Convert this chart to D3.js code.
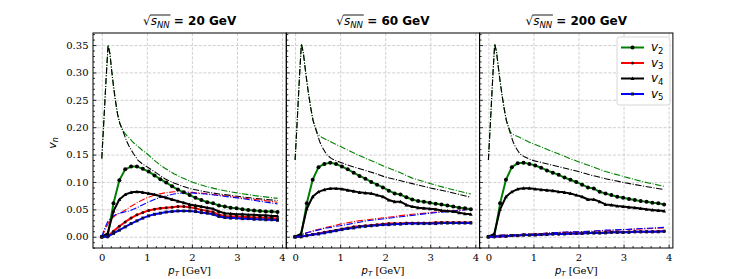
<!DOCTYPE html>
<html><head><meta charset="utf-8">
<script src="https://cdn.jsdelivr.net/npm/d3@7"></script>
<style>body{margin:0;background:#fff}</style>
</head><body><svg id="c" width="747" height="279"></svg>
<script>
// ---------------- data ----------------
const energies = ["20", "60", "200"];
const seriesNames = ["v2", "v3", "v4", "v5"];
const xTicks = [0, 1, 2, 3, 4];
const yTicks = [0, 0.05, 0.10, 0.15, 0.20, 0.25, 0.30, 0.35];

const pT = [0, 0.13, 0.26, 0.39, 0.52, 0.65, 0.78, 0.91, 1.04, 1.17, 1.30, 1.43, 1.56, 1.69, 1.82, 1.95,
  2.08, 2.21, 2.34, 2.47, 2.60, 2.73, 2.86, 2.99, 3.12, 3.25, 3.38, 3.51, 3.64, 3.77, 3.90];

// 20 GeV
const v2_20 = [0, 0.001, 0.061, 0.103, 0.123, 0.128, 0.128, 0.124, 0.119, 0.112, 0.105, 0.099, 0.092, 0.086, 0.081, 0.076, 0.071, 0.067, 0.063, 0.061, 0.057, 0.055, 0.053, 0.052, 0.050, 0.049, 0.048, 0.047, 0.046, 0.046, 0.045];
const v3_20 = [0, 0.001, 0.010, 0.019, 0.027, 0.034, 0.040, 0.044, 0.048, 0.050, 0.052, 0.053, 0.054, 0.055, 0.055, 0.054, 0.052, 0.049, 0.047, 0.045, 0.040, 0.038, 0.037, 0.037, 0.036, 0.036, 0.035, 0.035, 0.034, 0.034, 0.033];
const v4_20 = [0, 0.006, 0.047, 0.068, 0.077, 0.081, 0.082, 0.081, 0.079, 0.077, 0.074, 0.071, 0.068, 0.065, 0.062, 0.059, 0.057, 0.055, 0.053, 0.051, 0.046, 0.043, 0.042, 0.041, 0.041, 0.040, 0.040, 0.039, 0.039, 0.038, 0.038];
const v5_20 = [0, 0.000, 0.006, 0.012, 0.018, 0.024, 0.029, 0.034, 0.038, 0.041, 0.043, 0.045, 0.046, 0.047, 0.047, 0.047, 0.046, 0.044, 0.043, 0.041, 0.037, 0.035, 0.034, 0.034, 0.033, 0.033, 0.032, 0.032, 0.031, 0.031, 0.030];
// 60 GeV
const v2_60 = [0, 0.001, 0.061, 0.104, 0.127, 0.133, 0.135, 0.133, 0.128, 0.123, 0.117, 0.111, 0.106, 0.100, 0.095, 0.090, 0.084, 0.079, 0.077, 0.072, 0.068, 0.065, 0.064, 0.062, 0.060, 0.059, 0.057, 0.055, 0.053, 0.052, 0.050];
const v3_60 = [0, 0.000, 0.002, 0.004, 0.006, 0.008, 0.010, 0.012, 0.014, 0.016, 0.018, 0.019, 0.020, 0.021, 0.022, 0.023, 0.024, 0.024, 0.024, 0.025, 0.025, 0.025, 0.025, 0.025, 0.026, 0.026, 0.026, 0.026, 0.026, 0.026, 0.026];
const v4_60 = [0, 0.005, 0.051, 0.073, 0.082, 0.086, 0.088, 0.088, 0.087, 0.085, 0.083, 0.081, 0.080, 0.079, 0.076, 0.073, 0.067, 0.064, 0.064, 0.058, 0.055, 0.053, 0.052, 0.051, 0.050, 0.048, 0.047, 0.046, 0.044, 0.042, 0.041];
const v5_60 = [0, 0.000, 0.002, 0.004, 0.005, 0.007, 0.009, 0.011, 0.013, 0.015, 0.016, 0.018, 0.019, 0.020, 0.021, 0.022, 0.022, 0.023, 0.023, 0.024, 0.024, 0.024, 0.024, 0.024, 0.024, 0.025, 0.025, 0.025, 0.025, 0.025, 0.025];
// 200 GeV
const v2_200 = [0, 0.001, 0.061, 0.104, 0.127, 0.134, 0.135, 0.133, 0.130, 0.126, 0.121, 0.117, 0.113, 0.108, 0.104, 0.100, 0.095, 0.090, 0.088, 0.082, 0.079, 0.076, 0.073, 0.071, 0.069, 0.067, 0.065, 0.064, 0.062, 0.061, 0.059];
const v3_200 = [0, 0.000, 0.001, 0.001, 0.002, 0.002, 0.003, 0.003, 0.004, 0.004, 0.005, 0.005, 0.005, 0.006, 0.006, 0.006, 0.007, 0.007, 0.007, 0.007, 0.008, 0.008, 0.008, 0.008, 0.009, 0.009, 0.009, 0.009, 0.009, 0.010, 0.010];
const v4_200 = [0, 0.005, 0.050, 0.073, 0.082, 0.087, 0.0885, 0.0885, 0.087, 0.086, 0.085, 0.084, 0.082, 0.081, 0.079, 0.076, 0.073, 0.068, 0.068, 0.064, 0.059, 0.058, 0.056, 0.055, 0.054, 0.053, 0.0515, 0.050, 0.049, 0.048, 0.047];
const v5_200 = [0, 0.000, 0.001, 0.001, 0.002, 0.002, 0.003, 0.003, 0.003, 0.004, 0.004, 0.005, 0.005, 0.005, 0.006, 0.006, 0.006, 0.007, 0.007, 0.007, 0.007, 0.008, 0.008, 0.008, 0.008, 0.009, 0.009, 0.009, 0.009, 0.009, 0.010];

// dash-dot reference curves
const refPt = [0, 0.05, 0.10, 0.14, 0.18, 0.22, 0.26, 0.30, 0.35, 0.40, 0.45, 0.50, 0.55, 0.60, 0.70, 0.80, 0.90, 1.0, 1.2, 1.4, 1.6, 1.8, 2.0, 2.3, 2.6, 3.0, 3.4, 3.9];
const ref2_20 = [0.143, 0.218, 0.295, 0.350, 0.335, 0.303, 0.275, 0.250, 0.224, 0.207, 0.197, 0.190, 0.185, 0.181, 0.172, 0.165, 0.158, 0.152, 0.137, 0.125, 0.115, 0.107, 0.100, 0.092, 0.086, 0.080, 0.075, 0.070];
const ref4_20 = [0.143, 0.218, 0.295, 0.350, 0.335, 0.303, 0.275, 0.250, 0.224, 0.207, 0.197, 0.186, 0.175, 0.166, 0.152, 0.140, 0.133, 0.128, 0.117, 0.106, 0.098, 0.092, 0.087, 0.082, 0.078, 0.074, 0.070, 0.066];
const ref3_20 = [0, 0.008, 0.017, 0.024, 0.029, 0.033, 0.036, 0.039, 0.041, 0.043, 0.045, 0.048, 0.050, 0.053, 0.058, 0.063, 0.067, 0.071, 0.077, 0.080, 0.082, 0.082, 0.081, 0.079, 0.076, 0.072, 0.068, 0.063];
const ref5_20 = [0, 0.012, 0.022, 0.029, 0.033, 0.036, 0.038, 0.040, 0.042, 0.043, 0.044, 0.045, 0.046, 0.047, 0.050, 0.054, 0.058, 0.062, 0.069, 0.074, 0.078, 0.080, 0.080, 0.078, 0.075, 0.071, 0.066, 0.060];
const ref2_60 = [0.140, 0.216, 0.296, 0.352, 0.338, 0.310, 0.284, 0.260, 0.234, 0.212, 0.199, 0.188, 0.184, 0.181, 0.177, 0.173, 0.169, 0.165, 0.157, 0.149, 0.142, 0.135, 0.128, 0.118, 0.107, 0.097, 0.088, 0.078];
const ref4_60 = [0.140, 0.216, 0.296, 0.352, 0.338, 0.310, 0.284, 0.260, 0.234, 0.212, 0.199, 0.185, 0.173, 0.164, 0.150, 0.143, 0.139, 0.136, 0.130, 0.125, 0.120, 0.115, 0.109, 0.103, 0.097, 0.089, 0.082, 0.072];
const ref3_60 = [0, 0.002, 0.003, 0.004, 0.005, 0.006, 0.007, 0.008, 0.009, 0.011, 0.012, 0.013, 0.014, 0.015, 0.017, 0.019, 0.021, 0.023, 0.026, 0.029, 0.031, 0.033, 0.035, 0.038, 0.041, 0.044, 0.047, 0.050];
const ref5_60 = [0, 0.002, 0.003, 0.004, 0.005, 0.006, 0.007, 0.008, 0.009, 0.010, 0.011, 0.012, 0.013, 0.014, 0.016, 0.017, 0.019, 0.020, 0.023, 0.026, 0.029, 0.031, 0.033, 0.036, 0.039, 0.043, 0.046, 0.050];
const ref2_200 = [0.140, 0.216, 0.296, 0.352, 0.338, 0.310, 0.284, 0.260, 0.234, 0.212, 0.199, 0.190, 0.187, 0.185, 0.181, 0.177, 0.173, 0.170, 0.163, 0.156, 0.150, 0.143, 0.137, 0.128, 0.119, 0.110, 0.101, 0.092];
const ref4_200 = [0.140, 0.216, 0.296, 0.352, 0.338, 0.310, 0.284, 0.260, 0.234, 0.212, 0.199, 0.185, 0.173, 0.164, 0.151, 0.146, 0.142, 0.139, 0.135, 0.131, 0.127, 0.123, 0.119, 0.112, 0.106, 0.099, 0.093, 0.086];
const ref3_200 = [0, 0.001, 0.001, 0.002, 0.002, 0.002, 0.002, 0.003, 0.003, 0.003, 0.003, 0.004, 0.004, 0.004, 0.004, 0.005, 0.005, 0.005, 0.006, 0.007, 0.008, 0.008, 0.009, 0.010, 0.011, 0.013, 0.014, 0.016];
const ref5_200 = [0, 0.001, 0.001, 0.002, 0.002, 0.002, 0.002, 0.003, 0.003, 0.003, 0.003, 0.004, 0.004, 0.004, 0.004, 0.005, 0.005, 0.005, 0.006, 0.007, 0.008, 0.009, 0.009, 0.010, 0.012, 0.013, 0.015, 0.017];

// ---------------- assemble ----------------
const panels = [
  {E: energies[0], solid: [v2_20, v3_20, v4_20, v5_20], ref: [ref2_20, ref4_20, ref3_20, ref5_20]},
  {E: energies[1], solid: [v2_60, v3_60, v4_60, v5_60], ref: [ref2_60, ref4_60, ref3_60, ref5_60]},
  {E: energies[2], solid: [v2_200, v3_200, v4_200, v5_200], ref: [ref2_200, ref4_200, ref3_200, ref5_200]}
];
const solidColors = ["#008000", "#ff0000", "#000000", "#0000ff"];
const refColors = ["#008000", "#000000", "#ff0000", "#0000ff"];
const markerTypes = ["circle", "circle", "triangle", "square"];
const markerSize = [2.0, 1.5, 1.9, 1.5];

const svg = d3.select("#c");
const TOP = 33, BOT = 248, PW = 193.3;
const lefts = [93, 286.3, 479.6];
const SERIF = "'DejaVu Serif', serif";
const SANS = "'DejaVu Sans', sans-serif";

const minorX = d3.range(0, 21).map(i => +(i * 0.2).toFixed(2)).filter(v => xTicks.indexOf(v) < 0);
const minorY = d3.range(-2, 38).map(i => +(i * 0.01).toFixed(2)).filter(v => !yTicks.some(t => Math.abs(t - v) < 1e-9));

function marker(g, k, cx, cy) {
  const type = markerTypes[k], s = markerSize[k];
  if (type === "circle") {
    g.append("circle").attr("cx", cx).attr("cy", cy).attr("r", s)
      .attr("fill", k === 1 ? "#300" : "#000");
  } else if (type === "triangle") {
    g.append("path").attr("d", `M${cx},${cy - s}L${cx + s},${cy + s * 0.8}L${cx - s},${cy + s * 0.8}Z`)
      .attr("fill", "#000");
  } else {
    g.append("rect").attr("x", cx - s).attr("y", cy - s).attr("width", 2 * s).attr("height", 2 * s)
      .attr("fill", "#101040");
  }
}

panels.forEach((p, i) => {
  const L = lefts[i];
  const x = d3.scaleLinear().domain([-0.195, 4.095]).range([L, L + PW]);
  const y = d3.scaleLinear().domain([-0.0206, 0.372]).range([BOT, TOP]);
  const g = svg.append("g");

  // grid
  const gx = g.append("g").attr("transform", `translate(0,${BOT})`)
    .call(d3.axisBottom(x).tickValues(xTicks).tickSize(-(BOT - TOP)).tickFormat(""));
  const gy = g.append("g").attr("transform", `translate(${L},0)`)
    .call(d3.axisLeft(y).tickValues(yTicks).tickSize(-PW).tickFormat(""));
  [gx, gy].forEach(a => {
    a.select(".domain").remove();
    a.selectAll("line").attr("stroke", "#c4c4c4").attr("stroke-width", 0.8).attr("stroke-dasharray", "3,1.6");
  });

  const clipId = "clip" + i;
  svg.append("clipPath").attr("id", clipId).append("rect")
    .attr("x", L).attr("y", TOP).attr("width", PW).attr("height", BOT - TOP);
  const plot = g.append("g").attr("clip-path", `url(#${clipId})`);

  // dash-dot reference curves
  const lineRef = d3.line().x((d, k) => x(refPt[k])).y(d => y(d));
  p.ref.forEach((arr, k) => {
    plot.append("path").attr("d", lineRef(arr)).attr("fill", "none")
      .attr("stroke", refColors[k]).attr("stroke-width", 1.1)
      .attr("stroke-dasharray", "6.4,1.6,1,1.6");
  });

  // solid curves with markers
  const line = d3.line().x((d, k) => x(pT[k])).y(d => y(d));
  p.solid.forEach((arr, k) => {
    plot.append("path").attr("d", line(arr)).attr("fill", "none")
      .attr("stroke", solidColors[k]).attr("stroke-width", 2).attr("stroke-linejoin", "round");
    const mg = plot.append("g");
    arr.forEach((v, j) => marker(mg, k, x(pT[j]), y(v)));
  });

  // ticks
  const ax = g.append("g").attr("transform", `translate(0,${BOT})`)
    .call(d3.axisBottom(x).tickValues(xTicks).tickSizeInner(-3.5).tickSizeOuter(0).tickPadding(6).tickFormat(d3.format("d")));
  const axm = g.append("g").attr("transform", `translate(0,${BOT})`)
    .call(d3.axisBottom(x).tickValues(minorX).tickSizeInner(-2).tickSizeOuter(0).tickFormat(""));
  const ay = g.append("g").attr("transform", `translate(${L},0)`)
    .call(d3.axisLeft(y).tickValues(yTicks).tickSizeInner(-3.5).tickSizeOuter(0).tickPadding(4.5)
      .tickFormat(i === 0 ? d3.format(".2f") : ""));
  const aym = g.append("g").attr("transform", `translate(${L},0)`)
    .call(d3.axisLeft(y).tickValues(minorY).tickSizeInner(-2).tickSizeOuter(0).tickFormat(""));
  [ax, axm, ay, aym].forEach(a => {
    a.select(".domain").remove();
    a.selectAll("line").attr("stroke", "#000").attr("stroke-width", 0.8);
    a.selectAll("text").attr("font-family", SERIF).attr("font-size", 10).attr("fill", "#000");
  });

  // frame
  g.append("rect").attr("x", L).attr("y", TOP).attr("width", PW).attr("height", BOT - TOP)
    .attr("fill", "none").attr("stroke", "#000").attr("stroke-width", 1);

  // x label
  const cx = L + PW / 2;
  const xl = g.append("text").attr("x", cx).attr("y", 274).attr("text-anchor", "middle")
    .attr("font-size", 10).attr("fill", "#000");
  xl.append("tspan").attr("font-family", SANS).attr("font-style", "italic").text("p");
  xl.append("tspan").attr("font-family", SANS).attr("font-style", "italic").attr("font-size", 7).attr("dy", 2).text("T");
  xl.append("tspan").attr("font-family", SERIF).attr("dy", -2).text(" [GeV]");

  // title
  const t = g.append("text").attr("x", cx).attr("y", 25).attr("text-anchor", "middle")
    .attr("font-family", SANS).attr("font-size", 12).attr("fill", "#000");
  t.append("tspan").text("\u221A");
  t.append("tspan").attr("font-style", "italic").text("s");
  t.append("tspan").attr("font-style", "italic").attr("font-size", 8.5).attr("dy", 2.5).text("NN");
  t.append("tspan").attr("font-weight", "bold").attr("dy", -2.5).text(" = " + p.E + " GeV");
  const tn = t.node();
  const x0 = tn.getEndPositionOfChar(0).x, x1 = tn.getEndPositionOfChar(3).x;
  g.append("line").attr("x1", x0 - 0.6).attr("x2", x1 + 0.8).attr("y1", 15).attr("y2", 15)
    .attr("stroke", "#000").attr("stroke-width", 0.9);
});

// y label
const yl = svg.append("text").attr("transform", "translate(56,143) rotate(-90)")
  .attr("text-anchor", "middle").attr("font-family", SANS).attr("font-size", 11).attr("fill", "#000");
yl.append("tspan").attr("font-style", "italic").text("v");
yl.append("tspan").attr("font-style", "italic").attr("font-size", 8).attr("dy", 2).text("n");

// legend
const lg = svg.append("g");
lg.append("rect").attr("x", 617).attr("y", 37).attr("width", 53).attr("height", 68).attr("rx", 2.5)
  .attr("fill", "#fff").attr("fill-opacity", 0.85).attr("stroke", "#cccccc").attr("stroke-width", 0.8);
const legY = [47.5, 63, 78.5, 94];
const legSub = ["2", "3", "4", "5"];
seriesNames.forEach((nm, k) => {
  const yy = legY[k];
  lg.append("line").attr("x1", 621).attr("x2", 644).attr("y1", yy).attr("y2", yy)
    .attr("stroke", solidColors[k]).attr("stroke-width", 2);
  marker(lg, k, 632.5, yy);
  const tx = lg.append("text").attr("x", 651).attr("y", yy + 3.5).attr("font-family", SANS)
    .attr("font-size", 12).attr("fill", "#000");
  tx.append("tspan").attr("font-style", "italic").text("v");
  tx.append("tspan").attr("font-size", 8.5).attr("dy", 2.5).text(legSub[k]);
});
</script></body></html>
